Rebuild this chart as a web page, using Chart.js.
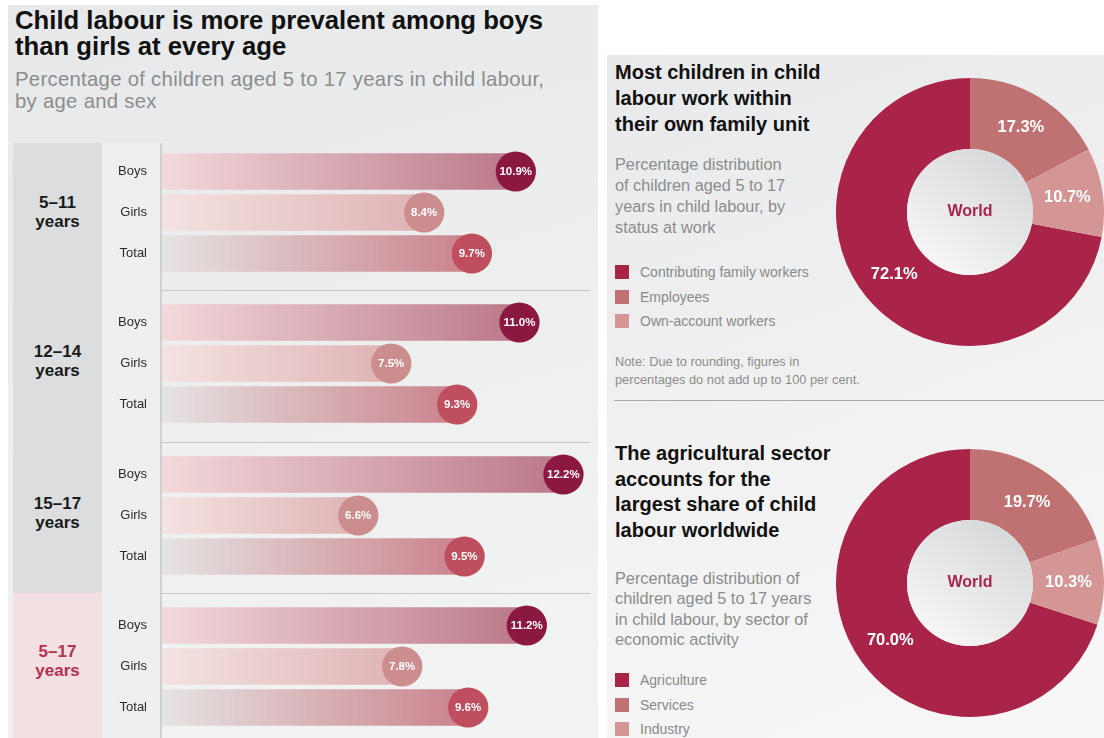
<!DOCTYPE html>
<html>
<head>
<meta charset="utf-8">
<script src="https://cdn.jsdelivr.net/npm/chart.js@4.4.1/dist/chart.umd.min.js"></script>
<style>
    html, body { margin: 0; padding: 0; width: 1104px; height: 738px; overflow: hidden; background: #fff; font-family: 'Liberation Sans', Arial, sans-serif; }
    .abs { position: absolute; }
    #left-panel { left: 8px; top: 5px; width: 590px; height: 733px; background: linear-gradient(165deg, #e7e8e9 0%, #eeefef 55%, #f2f3f3 100%); }
    #right-panel { left: 607px; top: 55px; width: 497px; height: 683px; background: linear-gradient(160deg, #e8e9ea 0%, #f1f1f2 50%, #f7f7f7 100%); }
    .title { font-weight: bold; color: #111; }
    .sub { color: #8c8c8c; }
    .row { position: absolute; left: 13px; width: 577px; border-bottom: 1.5px solid #c6c7c8; }
    .row:last-of-type { border-bottom: none; }
    .grp { position: absolute; left: 0; top: 0; bottom: 0; width: 89px; background: #dcdddf; display: flex; align-items: center; justify-content: center; text-align: center; font-weight: bold; font-size: 17px; line-height: 19px; color: #1a1a1a; padding-bottom: 10px; box-sizing: border-box; }
    .grp.world { background: #f2e0e2; color: #b5304f; }
    .lab { position: absolute; left: 89px; top: 0; bottom: 0; width: 58px; background: #eeeff0; border-right: 2px solid #cfd0d1; }
    .plot { position: absolute; left: 89px; width: 496px; height: 150px; }
    .legend div { height: 24.5px; display: flex; align-items: center; font-size: 14px; color: #8a8a8a; }
    .legend span.sw { display: inline-block; width: 14px; height: 14px; margin-right: 11px; }
    .donut { position: absolute; left: 836px; width: 268px; height: 268px; }
    .divider { left: 614px; top: 400px; width: 490px; border-top: 1.5px solid #a9a9a9; }
</style>
</head>
<body>
<div id="left-panel" class="abs"></div>
<div id="right-panel" class="abs"></div>

<div class="abs title" style="left:15px; top:7px; font-size:25.7px; line-height:26px;">Child labour is more prevalent among boys<br>than girls at every age</div>
<div class="abs sub" style="left:15px; top:68px; font-size:20.3px; line-height:22px; letter-spacing:0.3px;">Percentage of children aged 5 to 17 years in child labour,<br>by age and sex</div>

<div id="rows"></div>

<div class="abs title" style="left:615px; top:59px; font-size:20px; line-height:26px;">Most children in child<br>labour work within<br>their own family unit</div>
<div class="abs sub" style="left:615px; top:154px; font-size:16.3px; line-height:21px;">Percentage distribution<br>of children aged 5 to 17<br>years in child labour, by<br>status at work</div>
<div id="legend1" class="abs legend" style="left:615px; top:260px;"></div>
<div class="abs sub" style="left:615px; top:353px; font-size:12.8px; line-height:18px; color:#8d8d8d;">Note: Due to rounding, figures in<br>percentages do not add up to 100 per cent.</div>
<div class="donut" style="top:78px;"><canvas id="donut1"></canvas></div>

<div class="abs divider"></div>

<div class="abs title" style="left:615px; top:441px; font-size:20px; line-height:25.7px;">The agricultural sector<br>accounts for the<br>largest share of child<br>labour worldwide</div>
<div class="abs sub" style="left:615px; top:568px; font-size:16.3px; line-height:20.3px;">Percentage distribution of<br>children aged 5 to 17 years<br>in child labour, by sector of<br>economic activity</div>
<div id="legend2" class="abs legend" style="left:615px; top:668px;"></div>
<div class="donut" style="top:449px;"><canvas id="donut2"></canvas></div>

<script>
// bar chart data
const ageGroups = ['5–11 years', '12–14 years', '15–17 years', '5–17 years'];
const sexes = ['Boys', 'Girls', 'Total'];
const boys = [10.9, 11.0, 12.2, 11.2];
const girls = [8.4, 7.5, 6.6, 7.8];
const total = [9.7, 9.3, 9.5, 9.6];

// donut data
const statusLabels = ['Contributing family workers', 'Employees', 'Own-account workers'];
const statusValues = [72.1, 17.3, 10.7];
const sectorLabels = ['Agriculture', 'Services', 'Industry'];
const sectorValues = [70.0, 19.7, 10.3];

const barFrom = ['#f3d9db', '#f4e2e2', '#e6e3e3'];
const barTo = ['#b77284', '#ddafb0', '#c87b85'];
const dotColors = ['#8b1840', '#cc8d8f', '#bf4e5e'];
const sliceColors = ['#aa2449', '#c07272', '#d49595'];

Chart.defaults.font.family = "'Liberation Sans', Arial, sans-serif";

// row boxes: top / height / plot offset
const rowBoxes = [[143, 147, -4], [290, 152, 0], [442, 151, 0], [593, 145, 0]];

const dotPlugin = {
    id: 'dots',
    afterDatasetsDraw(chart) {
        const c = chart.ctx;
        const values = chart.data.datasets[0].data;
        chart.getDatasetMeta(0).data.forEach((bar, i) => {
            const r = 20;
            const cx = bar.x - r;
            c.save();
            c.beginPath();
            c.arc(cx, bar.y, r, 0, Math.PI * 2);
            c.fillStyle = dotColors[i];
            c.fill();
            c.fillStyle = '#fff';
            c.font = "bold 11.5px 'Liberation Sans', Arial";
            c.textAlign = 'center';
            c.textBaseline = 'middle';
            c.fillText(values[i].toFixed(1) + '%', cx, bar.y + 0.5);
            c.restore();
        });
    }
};

function barFill(ctx) {
    const chart = ctx.chart;
    const area = chart.chartArea;
    if (!area) return barTo[ctx.dataIndex];
    const x1 = chart.scales.x.getPixelForValue(ctx.raw);
    const g = chart.ctx.createLinearGradient(area.left, 0, x1, 0);
    g.addColorStop(0, barFrom[ctx.dataIndex]);
    g.addColorStop(1, barTo[ctx.dataIndex]);
    return g;
}

const rowsEl = document.getElementById('rows');
for (let g = 0; g < ageGroups.length; g++) {
    const [top, h, plotTop] = rowBoxes[g];
    const row = document.createElement('div');
    row.className = 'row';
    row.style.top = top + 'px';
    row.style.height = h + 'px';
    const parts = ageGroups[g].split(' ');
    row.innerHTML = `<div class="grp${g === 3 ? ' world' : ''}">${parts[0]}<br>${parts[1]}</div>
        <div class="lab"></div>
        <div class="plot" style="top:${plotTop}px"><canvas></canvas></div>`;
    rowsEl.appendChild(row);

    new Chart(row.querySelector('canvas'), {
        type: 'bar',
        data: {
            labels: sexes,
            datasets: [{
                data: [boys[g], girls[g], total[g]],
                backgroundColor: barFill,
                borderRadius: 18,
                borderSkipped: 'start',
                barThickness: 36
            }]
        },
        options: {
            indexAxis: 'y',
            responsive: true,
            maintainAspectRatio: false,
            animation: false,
            layout: { padding: { top: 12, bottom: 15, right: 0, left: 0 } },
            plugins: { legend: { display: false }, tooltip: { enabled: false } },
            scales: {
                x: { display: false, min: 0.7, max: 12.6 },
                y: {
                    grid: { display: false },
                    border: { display: false },
                    ticks: { color: '#2b2b2b', font: { size: 13 }, padding: 7 },
                    afterFit: (s) => { s.width = 60; s.paddingTop = 0; s.paddingBottom = 0; }
                }
            }
        },
        plugins: [dotPlugin]
    });
}

function buildLegend(id, labels) {
    const el = document.getElementById(id);
    labels.forEach((lab, i) => {
        const d = document.createElement('div');
        d.innerHTML = `<span class="sw" style="background:${sliceColors[i]}"></span>${lab}`;
        el.appendChild(d);
    });
}
buildLegend('legend1', statusLabels);
buildLegend('legend2', sectorLabels);

const donutPlugin = {
    id: 'donutText',
    afterDatasetsDraw(chart) {
        const c = chart.ctx;
        const arcs = chart.getDatasetMeta(0).data;
        const values = chart.data.datasets[0].data;
        const a0 = arcs[0];
        const r = a0.innerRadius;
        c.save();
        const g = c.createLinearGradient(a0.x + r * 0.7, a0.y - r * 0.7, a0.x - r * 0.5, a0.y + r);
        g.addColorStop(0, '#d8d9db');
        g.addColorStop(1, '#f7f7f7');
        c.beginPath();
        c.arc(a0.x, a0.y, r, 0, Math.PI * 2);
        c.fillStyle = g;
        c.fill();
        c.fillStyle = '#a8244c';
        c.font = "bold 16px 'Liberation Sans', Arial";
        c.textAlign = 'center';
        c.textBaseline = 'middle';
        c.fillText('World', a0.x, a0.y);
        c.fillStyle = '#fff';
        c.font = "bold 16.5px 'Liberation Sans', Arial";
        arcs.forEach((arc, i) => {
            const p = arc.tooltipPosition();
            c.fillText(values[i].toFixed(1) + '%', p.x, p.y);
        });
        c.restore();
    }
};

function makeDonut(id, labels, values) {
    const sum = values.reduce((a, b) => a + b, 0);
    new Chart(document.getElementById(id), {
        type: 'doughnut',
        data: {
            labels: labels,
            datasets: [{ data: values, backgroundColor: sliceColors, borderWidth: 0 }]
        },
        options: {
            responsive: true,
            maintainAspectRatio: false,
            animation: false,
            cutout: '47%',
            rotation: -360 * values[0] / sum,
            layout: { padding: 0 },
            plugins: { legend: { display: false }, tooltip: { enabled: false } }
        },
        plugins: [donutPlugin]
    });
}
makeDonut('donut1', statusLabels, statusValues);
makeDonut('donut2', sectorLabels, sectorValues);
</script>
</body>
</html>
